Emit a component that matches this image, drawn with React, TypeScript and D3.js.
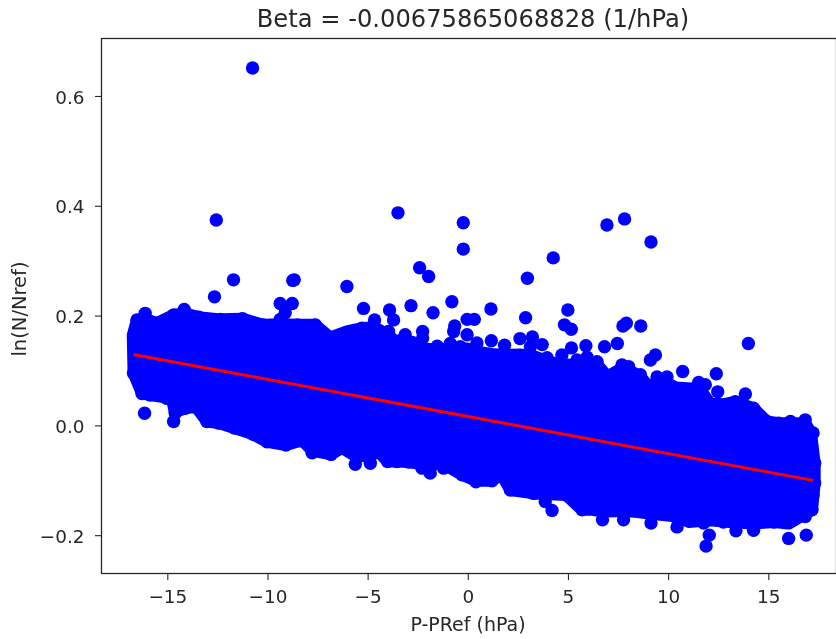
import React from "react";
import * as d3 from "d3";

const title = "Beta = -0.00675865068828 (1/hPa)";
const xLabel = "P-PRef (hPa)";
const yLabel = "ln(N/Nref)";
const xTicks = [-15, -10, -5, 0, 5, 10, 15];
const yTicks = [-0.2, 0, 0.2, 0.4, 0.6];

const fitX = [-16.72, 17.21];
const fitY = [0.13, -0.0993];

// Upper and lower limits of the fully overlapped part of the cloud
const coreUpper: [number, number][] = [
  [-16.71, 0.096], [-16.75, 0.165], [-16.54, 0.193], [-16.13, 0.195], [-15.54, 0.187], [-14.71, 0.202],
  [-14.18, 0.205], [-13.46, 0.198], [-12.38, 0.194], [-11.27, 0.195], [-10.25, 0.184], [-9.39, 0.185],
  [-8.52, 0.184], [-7.64, 0.184], [-6.89, 0.161], [-6.06, 0.172], [-5.31, 0.178], [-4.68, 0.18],
  [-3.98, 0.165], [-3.4, 0.146], [-2.28, 0.141], [-1.55, 0.139], [-0.9, 0.141], [-0.06, 0.141],
  [0.6, 0.134], [1.15, 0.131], [1.81, 0.129], [2.58, 0.13], [3.2, 0.128], [3.69, 0.121],
  [4.67, 0.111], [5.87, 0.113], [6.43, 0.112], [6.95, 0.09], [7.67, 0.105], [8.0, 0.102],
  [8.59, 0.09], [9.0, 0.072], [9.42, 0.078], [9.92, 0.078], [10.35, 0.07], [11.1, 0.068],
  [11.5, 0.07], [12.1, 0.04], [12.85, 0.04], [13.33, 0.044], [14.24, 0.032], [14.91, 0.008],
  [15.49, 0.005], [16.08, 0.005], [16.82, 0.005], [17.11, -0.013], [17.29, -0.068], [17.29, -0.104],
  [17.16, -0.153],
];
const coreLower: [number, number][] = [
  [16.0, -0.178], [15.25, -0.175], [14.24, -0.178], [13.36, -0.176], [12.03, -0.172], [11.0, -0.175],
  [10.42, -0.165], [9.12, -0.16], [8.45, -0.157], [7.75, -0.155], [6.7, -0.156], [6.2, -0.153],
  [5.68, -0.153], [4.89, -0.126], [3.26, -0.123], [2.1, -0.117], [1.65, -0.088], [1.18, -0.1],
  [0.38, -0.1], [-0.31, -0.089], [-1.23, -0.07], [-2.31, -0.07], [-2.98, -0.066], [-3.56, -0.065],
  [-4.03, -0.065], [-4.5, -0.046], [-4.89, -0.055], [-5.64, -0.055], [-6.3, -0.04], [-6.85, -0.052],
  [-7.8, -0.045], [-8.3, -0.026], [-9.1, -0.035], [-10.05, -0.029], [-10.77, -0.015], [-11.68, -0.004],
  [-12.47, 0.005], [-13.05, 0.008], [-13.6, 0.035], [-14.13, 0.032], [-14.65, 0.025], [-14.8, 0.05],
  [-15.88, 0.056], [-16.29, 0.059],
];

// Isolated points above the cloud and along its upper edge
const upperPoints: [number, number][] = [
  [-10.77, 0.652], [-12.58, 0.375], [-11.72, 0.266], [-8.69, 0.266], [-8.76, 0.265], [-6.06, 0.254],
  [-3.51, 0.388], [-2.43, 0.288], [-1.98, 0.272], [-12.67, 0.235], [-9.39, 0.223], [-8.79, 0.223],
  [-2.86, 0.219], [-0.25, 0.37], [-0.25, 0.322], [4.24, 0.306], [2.95, 0.269], [6.92, 0.366],
  [7.8, 0.377], [9.12, 0.335], [-0.82, 0.226], [1.13, 0.213], [2.86, 0.197], [4.97, 0.211],
  [4.8, 0.184], [5.14, 0.176], [7.72, 0.182], [7.89, 0.187], [8.61, 0.182], [13.98, 0.15],
  [-0.06, 0.194], [0.3, 0.194], [-0.68, 0.182], [7.44, 0.15], [6.8, 0.144], [5.87, 0.146],
  [5.15, 0.142], [1.15, 0.155], [1.81, 0.147], [2.58, 0.159], [3.2, 0.162], [3.69, 0.148],
  [9.34, 0.129], [9.09, 0.12], [4.67, 0.129], [-5.23, 0.214], [-3.93, 0.211], [-1.76, 0.206],
  [-3.73, 0.193], [-4.68, 0.193], [-0.73, 0.172], [-3.15, 0.166], [-2.28, 0.172], [-3.98, 0.172],
  [-0.06, 0.166], [-0.9, 0.15], [6.43, 0.117], [10.7, 0.099], [12.38, 0.095], [11.5, 0.079],
  [11.83, 0.075], [12.45, 0.062], [13.83, 0.058], [13.33, 0.044], [9.42, 0.089], [9.92, 0.089],
  [7.67, 0.111], [8.0, 0.108], [8.59, 0.093], [14.24, 0.032], [14.91, 0.008], [15.49, 0.005],
  [16.08, 0.008], [16.82, 0.011], [17.11, -0.013], [-16.13, 0.205], [-16.54, 0.193], [-14.18, 0.212],
  [-14.71, 0.202], [-13.46, 0.198], [-12.38, 0.194], [-11.27, 0.195], [-10.25, 0.184], [-15.54, 0.187],
  [-9.39, 0.194], [-9.14, 0.206], [-8.52, 0.184], [-7.64, 0.184], [-6.89, 0.161], [-5.31, 0.178],
  [-2.28, 0.16], [-1.55, 0.145], [0.43, 0.151], [-0.4, 0.144], [3.1, 0.144], [3.93, 0.124],
  [5.43, 0.12], [5.93, 0.125], [-3.4, 0.155], [-2.8, 0.152],
];

// Isolated points below the cloud and along its lower edge
const lowerPoints: [number, number][] = [
  [-16.16, 0.023], [-16.71, 0.096], [-16.29, 0.059], [-15.88, 0.056], [-15.04, 0.05], [-14.71, 0.008],
  [-14.63, 0.023], [-14.13, 0.032], [-13.05, 0.008], [-12.47, 0.005], [-11.68, -0.004], [-10.77, -0.015],
  [-10.05, -0.029], [-9.1, -0.035], [-8.3, -0.026], [-7.8, -0.049], [-6.85, -0.052], [-5.64, -0.07],
  [-4.89, -0.068], [-4.03, -0.065], [-3.56, -0.065], [-2.98, -0.066], [-2.31, -0.077], [-1.9, -0.086],
  [-1.23, -0.077], [-0.31, -0.089], [0.38, -0.102], [1.18, -0.1], [2.1, -0.117], [3.26, -0.123],
  [3.84, -0.138], [4.18, -0.154], [4.89, -0.126], [5.68, -0.153], [6.7, -0.171], [7.75, -0.171],
  [9.12, -0.177], [10.42, -0.184], [11.75, -0.177], [12.03, -0.199], [11.87, -0.219], [12.73, -0.175],
  [13.36, -0.191], [14.24, -0.19], [15.25, -0.175], [15.99, -0.205], [16.87, -0.199], [16.82, -0.165],
  [17.16, -0.153], [17.21, -0.126], [17.29, -0.104], [17.29, -0.068], [17.21, -0.013],
];

const font = "'DejaVu Sans', sans-serif";
const ink = "#262626";
const left = 101.5;
const right = 836.5;
const top = 38.5;
const bottom = 573.5;

export default function App() {
  const x = d3.scaleLinear().domain([-18.31, 18.38]).range([left, right]);
  const y = d3.scaleLinear().domain([-0.2689, 0.7056]).range([bottom, top]);
  const line = d3.line<[number, number]>().x((d) => x(d[0])).y((d) => y(d[1]));
  const core = line([...coreUpper, ...coreLower]) + "Z";
  const fit = line(fitX.map((v, i) => [v, fitY[i]] as [number, number])) as string;
  const points = [...upperPoints, ...lowerPoints];

  return (
    <svg
      width={836}
      height={639}
      viewBox="0 0 836 639"
      style={{ position: "absolute", left: 0, top: 0, background: "#fff" }}
    >
      <defs>
        <filter id="soft" x="-2%" y="-2%" width="104%" height="104%">
          <feGaussianBlur stdDeviation={0.45} />
        </filter>
      </defs>
      <g filter="url(#soft)">
        <path d={core} fill="#0000ff" stroke="#0000ff" strokeWidth={12} strokeLinejoin="round" />
        {points.map((d, i) => (
          <circle key={i} cx={x(d[0])} cy={y(d[1])} r={6.7} fill="#0000ff" />
        ))}
        <path d={fit} fill="none" stroke="#ff0000" strokeWidth={3} />

        <rect x={left} y={top} width={right - left} height={bottom - top} fill="none" stroke={ink} strokeWidth={1.3} />

        {xTicks.map((t) => (
          <g key={t} transform={`translate(${x(t)},${bottom})`}>
            <line y2={6.5} stroke={ink} strokeWidth={1.1} />
            <text y={29} textAnchor="middle" fontFamily={font} fontSize={18.4} fill={ink}>
              {t < 0 ? `\u2212${Math.abs(t)}` : t}
            </text>
          </g>
        ))}
        {yTicks.map((t) => (
          <g key={t} transform={`translate(${left},${y(t)})`}>
            <line x2={-6.5} stroke={ink} strokeWidth={1.1} />
            <text x={-17} y={7.2} textAnchor="end" fontFamily={font} fontSize={18.4} fill={ink}>
              {t < 0 ? `\u2212${Math.abs(t).toFixed(1)}` : t.toFixed(1)}
            </text>
          </g>
        ))}

        <text x={473} y={26.7} textAnchor="middle" fontFamily={font} fontSize={24.2} fill={ink}>
          {title}
        </text>
        <text x={468} y={631} textAnchor="middle" fontFamily={font} fontSize={19} fill={ink}>
          {xLabel}
        </text>
        <text
          transform="translate(26,309) rotate(-90)"
          textAnchor="middle"
          fontFamily={font}
          fontSize={19.5}
          fill={ink}
        >
          {yLabel}
        </text>
      </g>
    </svg>
  );
}
